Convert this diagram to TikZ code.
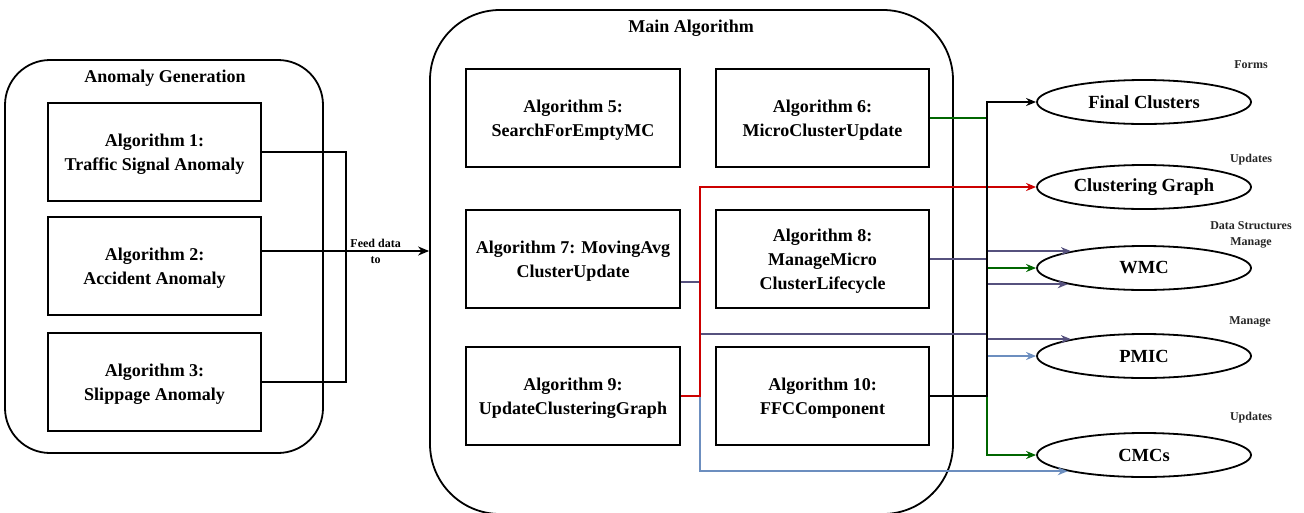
\documentclass[tikz,border=0pt]{standalone}
\usepackage{fontspec}
\setmainfont{Liberation Serif}[BoldFont={Liberation Serif Bold}]
\usetikzlibrary{shapes.geometric,arrows.meta,calc}
\definecolor{cgreen}{HTML}{006600}
\definecolor{cred}{HTML}{CC0000}
\definecolor{cpurple}{HTML}{56517E}
\definecolor{cblue}{HTML}{6C8EBF}
\tikzset{
  algbox/.style={draw, line width=1.8pt, minimum width=213pt, minimum height=98pt, align=center, inner sep=0pt, text depth=-5pt, font=\rmfamily\bfseries\fontsize{18}{24}\selectfont},
  cont/.style={draw, line width=1.8pt, inner sep=0pt},
  ctitle/.style={font=\rmfamily\bfseries\fontsize{18}{22}\selectfont, inner sep=0pt},
  ell/.style={draw, ellipse, line width=1.8pt, minimum width=214pt, minimum height=44pt, inner sep=0pt, font=\rmfamily\bfseries\fontsize{18.5}{22}\selectfont},
  small/.style={font=\rmfamily\bfseries\fontsize{12}{16}\selectfont, align=center, text=black!85, inner sep=0pt},
  conn/.style={line width=1.8pt},
  arr/.style={conn, -{Stealth[length=10pt, width=8pt]}}
}
\begin{document}
\begin{tikzpicture}[x=1pt,y=-1pt]
\useasboundingbox (0,0) rectangle (1304,512);
% containers
\node[cont, rounded corners=45pt, minimum width=318pt, minimum height=393pt] (ag) at (164,256.5) {};
\node[ctitle] (agt) at (165,78.5) {Anomaly Generation};
\node[cont, rounded corners=70pt, minimum width=523pt, minimum height=504pt] (main) at (691.5,262) {};
\node[ctitle] (mt) at (691,28.5) {Main Algorithm};
% left boxes
\node[algbox] (a1) at (154.5,152) {Algorithm 1:\\Traffic Signal Anomaly};
\node[algbox] (a2) at (154.5,266) {Algorithm 2:\\Accident Anomaly};
\node[algbox] (a3) at (154.5,382) {Algorithm 3:\\Slippage Anomaly};
% main boxes
\node[algbox, minimum width=214pt] (a5) at (573,118) {Algorithm 5:\\SearchForEmptyMC};
\node[algbox] (a6) at (822.5,118) {Algorithm 6:\\MicroClusterUpdate};
\node[algbox, minimum width=214pt] (a7) at (573,259) {Algorithm 7: MovingAvg\\ClusterUpdate};
\node[algbox] (a8) at (822.5,259) {Algorithm 8:\\ManageMicro\\ClusterLifecycle};
\node[algbox, minimum width=214pt] (a9) at (573,396) {Algorithm 9:\\UpdateClusteringGraph};
\node[algbox] (a10) at (822.5,396) {Algorithm 10:\\FFCComponent};
% ellipses
\node[ell] (fc) at (1144,102) {Final Clusters};
\node[ell] (cg) at (1144,187) {Clustering Graph};
\node[ell] (wmc) at (1144,268) {WMC};
\node[ell] (pmic) at (1144,356) {PMIC};
\node[ell] (cmc) at (1144,455) {CMCs};
% small labels
\node[small] (l1) at (1251,65) {Forms};
\node[small] (l2) at (1251,160) {Updates};
\node[small] (l3) at (1251,235) {Data Structures\\Manage};
\node[small] (l4) at (1250,322) {Manage};
\node[small] (l5) at (1251,418) {Updates};
% helper coordinates
\coordinate (j) at (346,251);
\coordinate (bL) at (700,0);
\coordinate (bR) at (987,0);
\coordinate (y7) at (0,282);
\coordinate (y334) at (0,334);
% left connectors
\draw[conn] (a1.east) -| (j) |- (a3.east);
\draw[conn, line width=2.4pt, -{Stealth[length=11pt, width=9pt]}] (a2.east |- j) -- (main.west |- j)
  node[small, pos=0.68, text=black] (fd) {Feed data\\to};
% right connectors
\draw[arr, cpurple] (a7.east |- y7) -- (bL |- y7) -- (bL |- y334) -- (bR |- y334) |- (pmic.167.6);
\draw[arr, cpurple] (a8.east) -- (a8.east -| bR) |- (wmc.167.6);
\draw[arr, cpurple] (a8.east) -- (a8.east -| bR) |- (wmc.192.4);
\draw[arr, cblue] (a9.east) -- (a9.east -| bL) |- (cmc.192.4);
\draw[arr, cblue] (a10.east) -- (a10.east -| bR) |- (pmic.west);
\draw[arr, cgreen] (a6.east) -- (a6.east -| bR) |- (wmc.west);
\draw[arr, cgreen] (a6.east) -- (a6.east -| bR) |- (cmc.west);
\draw[arr, cred] (a9.east) -- (a9.east -| bL) |- (cg.west);
\draw[arr] (a10.east) -- (a10.east -| bR) |- (fc.west);
\end{tikzpicture}
\end{document}
